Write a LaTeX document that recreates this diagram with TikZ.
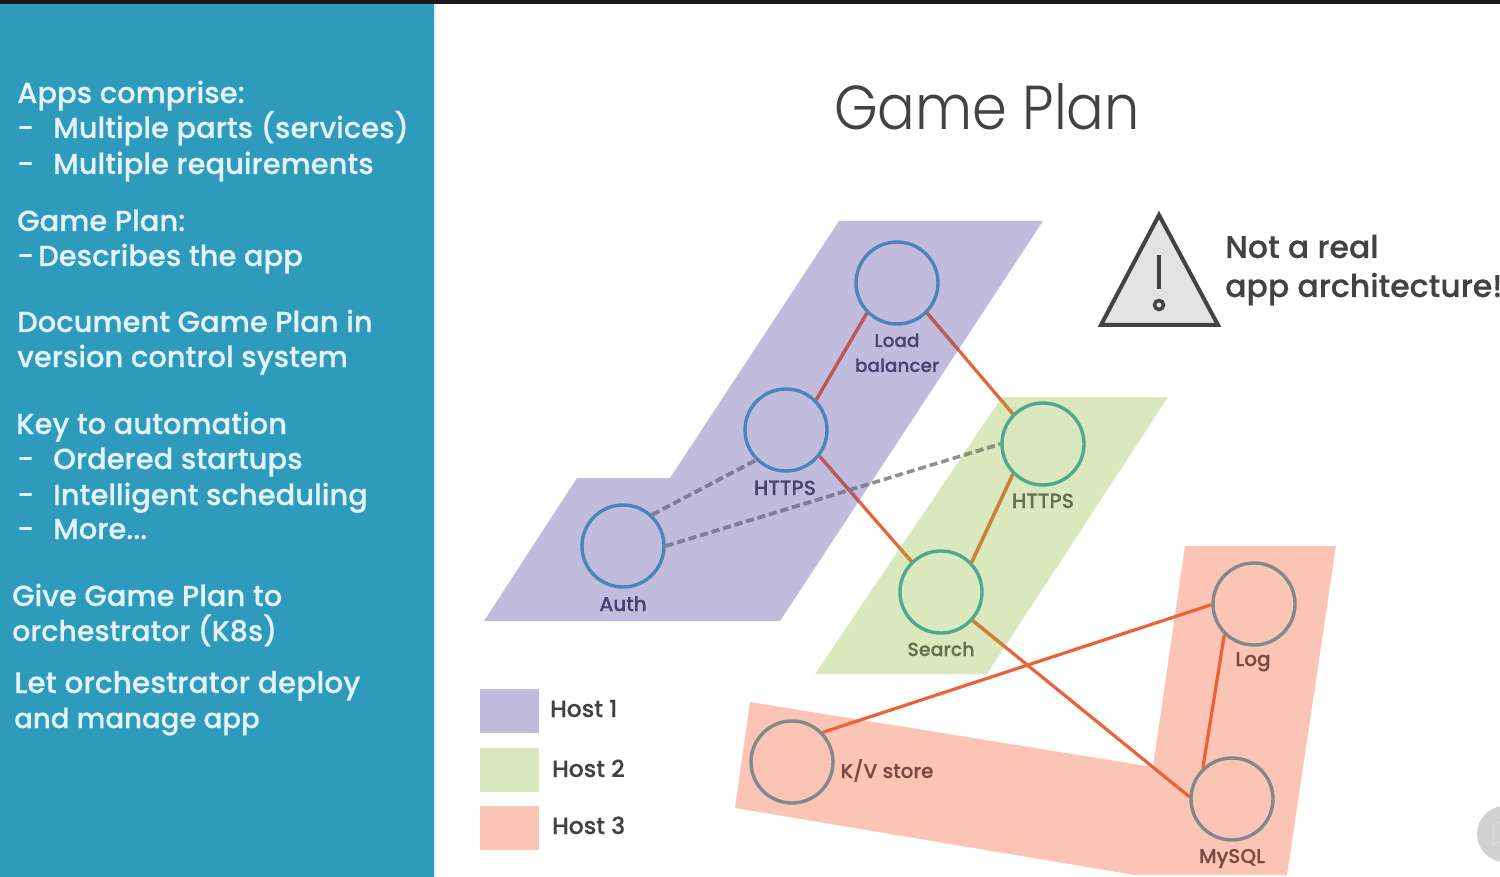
\documentclass[tikz,border=0pt]{standalone}
\usepackage{fontspec}
\setmainfont[FakeBold=0.35]{Poppins Medium}
\newfontfamily\lightfont[FakeStretch=0.9]{Poppins Light}
\usetikzlibrary{shapes.geometric}
\definecolor{sidebar}{HTML}{2E9BBD}
\definecolor{sidetext}{HTML}{E4F3F9}
\definecolor{hostA}{HTML}{C1BBDE}
\definecolor{hostB}{HTML}{DBE7BC}
\definecolor{hostC}{HTML}{FBC4B5}
\definecolor{ringA}{HTML}{4A86B8}
\definecolor{ringB}{HTML}{4FA98F}
\definecolor{ringC}{HTML}{7F8A8C}
\definecolor{wire}{HTML}{EA6237}
\definecolor{wireA}{HTML}{B85A5A}
\definecolor{wireB}{HTML}{C98238}
\definecolor{dashwire}{HTML}{92908F}
\definecolor{dashA}{HTML}{827C9A}
\definecolor{dashB}{HTML}{8F9378}
\definecolor{labA}{HTML}{4A4470}
\definecolor{labB}{HTML}{667050}
\definecolor{labC}{HTML}{7A4A42}
\definecolor{ink}{HTML}{404244}
\newcommand{\hostApath}{(839,221) -- (1043,221) -- (780,621) -- (484,621) -- (577,478) -- (670,478) -- cycle}
\newcommand{\hostBpath}{(1002,397) -- (1168,397) -- (987,674) -- (815,674) -- cycle}
\newcommand{\allwires}[2]{%
  \draw[wireline,draw=#1] (lb.225) -- (h1.45);
  \draw[wireline,draw=#1] (lb.-45) -- (h2.135);
  \draw[wireline,draw=#1] (h1.-38) -- (search.134);
  \draw[wireline,draw=#1] (h2.225) -- (search.44);
  \draw[wireline,draw=#1] (search.-42) -- (mysql.177);
  \draw[wireline,draw=#1] (kv.44) -- (log.181);
  \draw[wireline,draw=#1] (log.226) -- (mysql.133);
  \draw[dashline,draw=#2] (auth.47) -- (h1.225);
  \draw[dashline,draw=#2] (auth.0) -- (h2.180);
}
\tikzset{
  x=1pt,y=-1pt,
  sideline/.style={anchor=base west,inner sep=0pt,text=sidetext,font=\fontsize{29}{29}\selectfont},
  ring/.style={circle,draw,line width=3.4pt,minimum size=82pt,inner sep=0pt},
  ringa/.style={ring,draw=ringA},
  ringb/.style={ring,draw=ringB},
  ringc/.style={ring,draw=ringC},
  lab/.style={anchor=base,inner sep=0pt,font=\fontsize{20}{20}\selectfont},
  wireline/.style={line width=3.2pt},
  dashline/.style={line width=3.6pt,dash pattern=on 8pt off 4pt},
  legendbox/.style={minimum width=59pt,minimum height=44pt,inner sep=0pt,anchor=north west},
  legendtext/.style={anchor=base west,inner sep=0pt,text=ink,font=\fontsize{23.5}{23.5}\selectfont},
  warntext/.style={anchor=base west,inner sep=0pt,text=ink,font=\fontsize{31.5}{31.5}\selectfont},
}
\begin{document}
\begin{tikzpicture}
\useasboundingbox (0,0) rectangle (1500,877);
\clip (0,0) rectangle (1500,877);
\fill[white] (0,0) rectangle (1500,877);
\fill[sidebar] (0,4) rectangle (434,877);
\fill[sidebar!15] (434,4) rectangle (436,877);
\fill[black!90] (0,0) rectangle (1500,4);
% sidebar text
\node[sideline] (s1) at (17,103) {Apps comprise:};
\node[sideline] (s2a) at (17,138) {-};
\node[sideline] (s2) at (53,138) {Multiple parts (services)};
\node[sideline] (s3a) at (17,174) {-};
\node[sideline] (s3) at (53,174) {Multiple requirements};
\node[sideline] (s4) at (17,231) {Game Plan:};
\node[sideline] (s5a) at (17,266) {-};
\node[sideline] (s5) at (38,266) {Describes the app};
\node[sideline] (s6) at (17,332) {Document Game Plan in};
\node[sideline] (s7) at (17,367) {version control system};
\node[sideline] (s8) at (16,434) {Key to automation};
\node[sideline] (s9a) at (17,469) {-};
\node[sideline] (s9) at (53,469) {Ordered startups};
\node[sideline] (s10a) at (17,505) {-};
\node[sideline] (s10) at (53,505) {Intelligent scheduling};
\node[sideline] (s11a) at (17,539) {-};
\node[sideline] (s11) at (53,539) {More...};
\node[sideline] (s12) at (12,606) {Give Game Plan to};
\node[sideline,font=\fontsize{28.5}{29}\selectfont] (s13) at (12,641) {orchestrator (K8s)};
\node[sideline,font=\fontsize{29.7}{29}\selectfont] (s14) at (14,693) {Let orchestrator deploy};
\node[sideline,font=\fontsize{27.6}{29}\selectfont] (s15) at (14,728) {and manage app};
% title
\node[anchor=base,inner sep=0pt,text=ink,font=\lightfont\fontsize{62}{62}\selectfont] (title) at (987,130) {Game Plan};
% hosts
\fill[hostA] \hostApath;
\fill[hostB] \hostBpath;
\fill[hostC] (1185,546) -- (1336,546) -- (1287,875) -- (1135,875) -- (735,808) -- (750,702) -- (1153,767) -- cycle;
% nodes
\node[ringa] (lb) at (897,283) {};
\node[ringa] (h1) at (786,430) {};
\node[ringa] (auth) at (623,546) {};
\node[ringb] (h2) at (1043,444) {};
\node[ringb] (search) at (941,592) {};
\node[ringc] (log) at (1254,604) {};
\node[ringc] (mysql) at (1232,799) {};
\node[ringc] (kv) at (792,762) {};
% connectors, tinted where they cross a host area
\allwires{wire}{dashwire}
\begin{scope}
\clip \hostApath;
\allwires{wireA}{dashA}
\end{scope}
\begin{scope}
\clip \hostBpath;
\allwires{wireB}{dashB}
\end{scope}
% labels
\node[lab,text=labA,font=\fontsize{18.5}{20}\selectfont] (tlb1) at (897,347) {Load};
\node[lab,text=labA,font=\fontsize{18.5}{20}\selectfont] (tlb2) at (897,372) {balancer};
\node[lab,text=labA,font=\fontsize{20.5}{20}\selectfont] (th1) at (785,495) {HTTPS};
\node[lab,text=labA] (tauth) at (623,611) {Auth};
\node[lab,text=labB,font=\fontsize{20.5}{20}\selectfont] (th2) at (1043,508) {HTTPS};
\node[lab,text=labB,font=\fontsize{19}{20}\selectfont] (tsearch) at (941,656) {Search};
\node[lab,text=labC] (tlog) at (1253,666) {Log};
\node[lab,text=labC] (tmysql) at (1232,863) {MySQL};
\node[lab,text=labC] (tkv) at (887,778) {K/V store};
% legend
\node[legendbox,fill=hostA] (l1) at (480,689) {};
\node[legendbox,fill=hostB] (l2) at (480,748) {};
\node[legendbox,fill=hostC] (l3) at (480,806) {};
\node[legendtext] (t1) at (550,717) {Host 1};
\node[legendtext] (t2) at (552,777) {Host 2};
\node[legendtext] (t3) at (552,834) {Host 3};
% warning
\draw[fill=black!11,draw=ink,line width=4pt,miter limit=10] (1159,215) -- (1218,325) -- (1101,325) -- cycle;
\draw[ink,line width=3.6pt] (1159,255) -- (1159,289);
\draw[ink,line width=3.5pt,fill=black!11] (1159,305) circle (4.5);
\node[warntext] (w1) at (1225,258) {Not a real};
\node[warntext] (w2) at (1225,297) {app architecture!};
% control button
\fill[black!18] (1505,834) circle (28);
\draw[white!85!black,line width=2pt] (1493,825) -- (1493,845) -- (1500,842) (1493,825) -- (1500,822);
\end{tikzpicture}
\end{document}
